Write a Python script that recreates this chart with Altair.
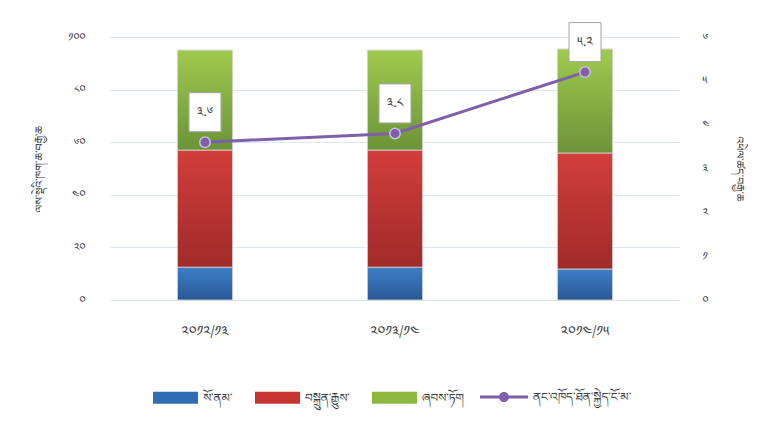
import altair as alt
import pandas as pd

years = ["༢༠༡༢/༡༣", "༢༠༡༣/༡༤", "༢༠༡༤/༡༥"]
sectors = ["སོ་ནམ་", "བསྐྲུན་རྒྱུས་", "ཞབས་ཏོག"]
agri = [12.5, 12.5, 11.8]
industry = [44.5, 44.5, 44.1]
services = [38.0, 38.0, 39.5]
gdp_name = "ནང་འཁོད་ཐོན་སྐྱེད་ངོ་མ་"
gdp = [3.6, 3.8, 5.2]
gdp_labels = ["༣.༦", "༣.༨", "༥.༢"]
left_ticks = [0, 20, 40, 60, 80, 100]
left_tick_labels = ["༠", "༢༠", "༤༠", "༦༠", "༨༠", "༡༠༠"]
right_ticks = [0, 1, 2, 3, 4, 5, 6]
right_tick_labels = ["༠", "༡", "༢", "༣", "༤", "༥", "༦"]
left_title = "ལས་སྡེའི་ཁག་ཆ་བརྒྱ་ཆ"
right_title = "འཕེལ་ཚད་བརྒྱ་ཆ"

colors = ["#2f6db5", "#c73532", "#8cb840"]
grad_top = ["#3f7ec8", "#d23e3b", "#9fca4e"]
grad_bottom = ["#285895", "#a02b29", "#6b9438"]
purple = "#7f5fa9"
FONT = "Noto Serif Tibetan, Jomolhari, DejaVu Sans, sans-serif"

rows = []
for i, y in enumerate(years):
    for k, (s, vals) in enumerate(zip(sectors, [agri, industry, services])):
        rows.append({"year": y, "sector": s, "value": vals[i], "order": k})
bars_df = pd.DataFrame(rows)
line_df = pd.DataFrame({"year": years, "gdp": gdp, "label": gdp_labels, "series": [gdp_name] * 3})


def label_expr(vals, labels):
    expr = "''"
    for v, l in zip(vals, labels):
        expr = f"datum.value == {v} ? '{l}' : ({expr})"
    return expr


x_enc = alt.X("year:N", sort=years, title=None,
              axis=alt.Axis(labelAngle=0, labelPadding=24, ticks=False, domain=True,
                            domainColor="#d6e3f3", labelFont=FONT, labelFontSize=14,
                            labelColor="#404040"),
              scale=alt.Scale(paddingInner=0.71, paddingOuter=0.355))

yscale = alt.Scale(domain=[0, 100])

bars = alt.Chart(bars_df).mark_bar(stroke="#d9d9d9", strokeWidth=1).encode(
    x=x_enc,
    y=alt.Y("value:Q", stack="zero", scale=yscale,
            axis=alt.Axis(values=left_ticks, labelExpr=label_expr(left_ticks, left_tick_labels),
                          title=left_title, titleFont=FONT, titleFontSize=11, titleFontWeight="normal",
                          titleColor="#404040", titlePadding=23, labelPadding=25,
                          ticks=False, domain=False, grid=True, gridColor="#dce7f4",
                          labelFont=FONT, labelFontSize=11, labelColor="#404040")),
    color=alt.Color("sector:N", sort=sectors, scale=alt.Scale(domain=sectors, range=colors),
                    legend=alt.Legend(title=None, orient="none", direction="horizontal",
                                      legendX=43, legendY=338,
                                      symbolType="M-1,-0.27H1V0.27H-1Z", symbolSize=2025,
                                      symbolStrokeWidth=0, labelFont=FONT, labelFontSize=12,
                                      labelColor="#404040", columnPadding=22, padding=0,
                                      labelOffset=5)),
    order=alt.Order("order:Q"),
)

overlays = []
for k, s in enumerate(sectors):
    grad = alt.Gradient(gradient="linear", x1=0, x2=0, y1=0, y2=1,
                        stops=[alt.GradientStop(color=grad_top[k], offset=0),
                               alt.GradientStop(color=grad_bottom[k], offset=1)])
    ov = alt.Chart(bars_df).transform_stack(
        stack="value", as_=["v0", "v1"], groupby=["year"], sort=[alt.SortField("order")]
    ).transform_filter(alt.datum.sector == s).mark_bar(
        fill=grad, stroke="#d9d9d9", strokeWidth=0.8
    ).encode(
        x=alt.X("year:N", sort=years),
        y=alt.Y("v0:Q", scale=yscale),
        y2="v1:Q",
    )
    overlays.append(ov)

y_right = alt.Y("gdp:Q", scale=alt.Scale(domain=[0, 6]),
                axis=alt.Axis(values=right_ticks, labelExpr=label_expr(right_ticks, right_tick_labels),
                              orient="right", title=right_title, titleFont=FONT, titleFontSize=11,
                              titleFontWeight="normal", titleColor="#404040", titleAngle=90,
                              titlePadding=24, labelPadding=22, ticks=False, domain=False, grid=False,
                              labelFont=FONT, labelFontSize=11, labelColor="#404040"))

line = alt.Chart(line_df).mark_line(strokeWidth=3).encode(
    x=alt.X("year:N", sort=years),
    y=y_right,
    stroke=alt.Stroke("series:N", scale=alt.Scale(domain=[gdp_name], range=[purple]),
                      legend=alt.Legend(title=None, orient="none", legendX=370, legendY=336,
                                        symbolType="M-1,-0.065H1V0.065H-1Z M0.21,0A0.21,0.21 0 1,1 -0.21,0A0.21,0.21 0 1,1 0.21,0Z",
                                        symbolSize=2304, symbolFillColor=purple, symbolStrokeWidth=0,
                                        labelFont=FONT, labelFontSize=12, labelColor="#404040",
                                        padding=0, labelOffset=5)),
)

points = alt.Chart(line_df).mark_point(filled=True, size=110, color=purple, stroke="#cbbfe0",
                                       strokeWidth=1.5, opacity=1).encode(
    x=alt.X("year:N", sort=years), y="gdp:Q")

boxes = alt.Chart(line_df).mark_point(shape="M-0.82,-1H0.82V1H-0.82Z", size=1521, filled=True,
                                      fill="white", stroke="#a6a6a6", strokeWidth=1, opacity=1,
                                      yOffset=-30).encode(
    x=alt.X("year:N", sort=years), y="gdp:Q")

texts = alt.Chart(line_df).mark_text(font=FONT, fontSize=13, color="#404040", yOffset=-30).encode(
    x=alt.X("year:N", sort=years), y="gdp:Q", text="label:N")

left_layer = alt.layer(bars, *overlays)
right_layer = alt.layer(line, points, boxes, texts)

chart = alt.layer(left_layer, right_layer).resolve_scale(y="independent", color="independent").properties(
    width=570, height=263,
    autosize=alt.AutoSizeParams(type="none"),
    padding={"left": 102, "top": 29, "right": 84, "bottom": 120},
).configure_view(stroke=None)

chart.save("out.html", embed_options={"renderer": "svg", "actions": False})
